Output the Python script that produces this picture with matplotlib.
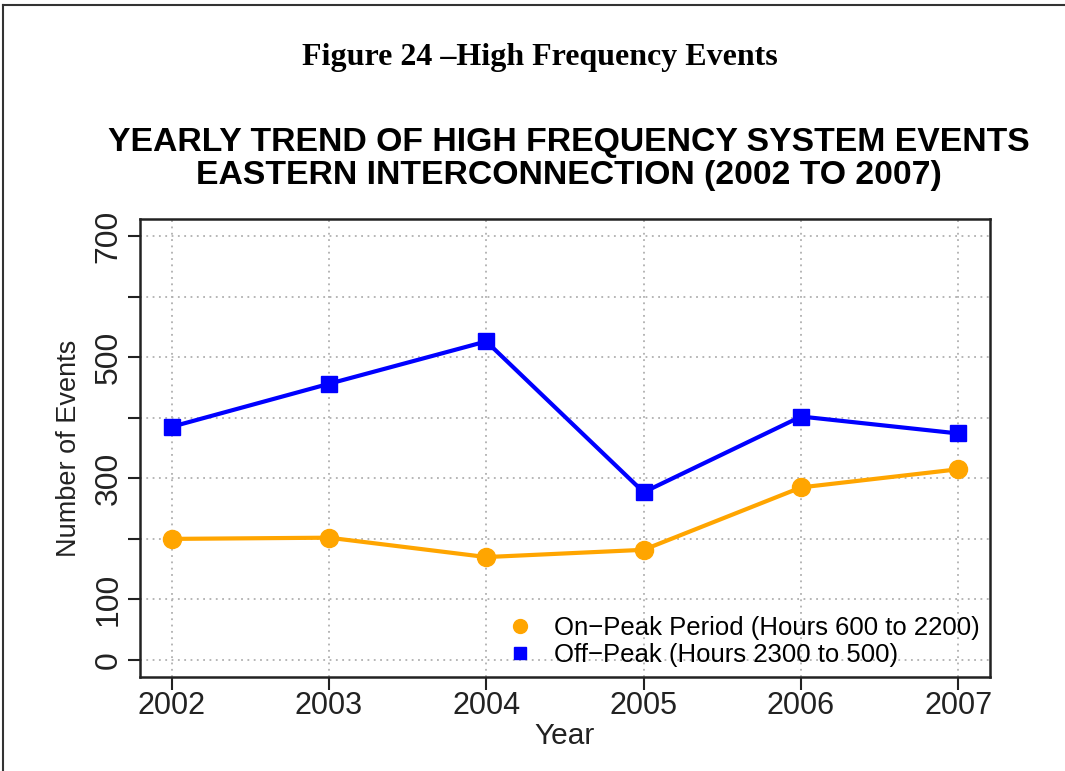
import matplotlib
matplotlib.use('Agg')
import matplotlib.pyplot as plt
from matplotlib.lines import Line2D

# values
years = [2002, 2003, 2004, 2005, 2006, 2007]
on_peak = [200, 202, 170, 182, 285, 315]
off_peak = [385, 456, 526, 277, 402, 374]
ytick_vals = [0, 100, 200, 300, 400, 500, 600, 700]
ytick_labels = ['0', '100', '', '300', '', '500', '', '700']

on_label = 'On\u2212Peak Period (Hours 600 to 2200)'
off_label = 'Off\u2212Peak (Hours 2300 to 500)'

plt.rcParams['font.family'] = ['Liberation Sans', 'DejaVu Sans']

fig = plt.figure(figsize=(10.65, 7.71), dpi=100)

# page border (left and top edges)
fig.add_artist(Line2D([0.003, 0.003], [0.0, 0.994], color='#333333', lw=1.5))
fig.add_artist(Line2D([0.003, 1.0], [0.994, 0.994], color='#333333', lw=1.5))

fig.text(0.507, 0.926, 'Figure 24 \u2013High Frequency Events', ha='center', va='center',
         family='Liberation Serif', weight='bold', fontsize=23)
fig.text(0.534, 0.794, 'YEARLY TREND OF HIGH FREQUENCY SYSTEM EVENTS\nEASTERN INTERCONNECTION (2002 TO 2007)',
         ha='center', va='center', weight='bold', fontsize=24.3, linespacing=1.08)

ax = fig.add_axes([0.1315, 0.1219, 0.798, 0.594])

ax.plot(years, off_peak, color='#0000FF', lw=3, marker='s', markersize=11, zorder=3)
ax.plot(years, on_peak, color='#FFA500', lw=3, marker='o', markersize=13, zorder=3)

ax.set_xlim(2001.8, 2007.2)
ax.set_ylim(-28, 728)
ax.set_xticks(years)
ax.set_xticklabels([str(y) for y in years], fontsize=22, color='#222222')
ax.set_yticks(ytick_vals)
ax.set_yticklabels(ytick_labels, fontsize=23, rotation=90, va='center', color='#222222')

ax.grid(True, color='#b0b0b0', linestyle=(0, (1, 2.5)), lw=1.3)
ax.set_axisbelow(True)
for s in ax.spines.values():
    s.set_linewidth(1.8)
    s.set_color('#222222')
ax.tick_params(axis='both', direction='out', length=9, width=1.5, color='#222222', pad=3)
ax.tick_params(axis='x', pad=1)

ax.set_xlabel('Year', fontsize=21.5, color='#222222', va='center')
ax.xaxis.set_label_coords(0.5, -0.128)
ax.set_ylabel('Number of Events', fontsize=19.5, color='#222222', labelpad=8)

handles = [Line2D([], [], color='#FFA500', marker='o', linestyle='None', markersize=10),
           Line2D([], [], color='#0000FF', marker='s', linestyle='None', markersize=9)]
ax.legend(handles, [on_label, off_label], loc='lower right', frameon=False, fontsize=18.5,
          handletextpad=0.55, labelspacing=0.12, borderaxespad=0.0, handlelength=1.5,
          bbox_to_anchor=(1.0, 0.0))

fig.savefig('out.png', dpi=100)
